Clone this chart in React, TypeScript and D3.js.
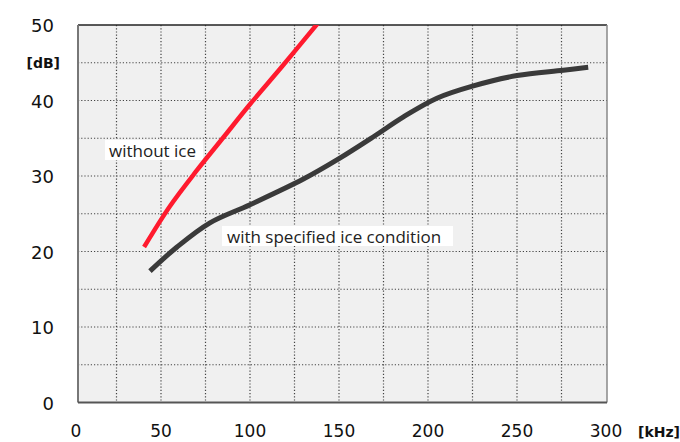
import React from 'react';
import * as d3 from 'd3';

// values (kHz, dB)
const withoutIceKHz = [40.5, 55, 70, 85, 100, 118, 138];
const withoutIceDB = [20.6, 26, 30.7, 35.1, 39.5, 44.5, 50.2];

const withIceKHz = [43.8, 59, 77.5, 100, 130, 150, 170, 186, 205, 225, 250, 276, 290];
const withIceDB = [17.4, 20.6, 23.8, 26.2, 29.6, 32.3, 35.3, 37.8, 40.3, 41.9, 43.3, 44, 44.4];

const xTickValues = [0, 50, 100, 150, 200, 250, 300];
const yTickValues = [0, 10, 20, 30, 40, 50];
const xGridValues = d3.range(25, 300, 25);
const yGridValues = d3.range(5, 50, 5);

const width = 680;
const height = 442;
const plotLeft = 78;
const plotRight = 607;
const plotTop = 25;
const plotBottom = 402.5;

const x = d3.scaleLinear().domain([0, 300]).range([72, 606]);
const y = d3.scaleLinear().domain([0, 50]).range([plotBottom, plotTop]);

const line = d3
  .line<[number, number]>()
  .curve(d3.curveCatmullRom.alpha(0.5))
  .x((d) => x(d[0]))
  .y((d) => y(d[1]));

const tickFont = '"DejaVu Sans", Verdana, sans-serif';
const noteFont = '"Open Sans", "Noto Sans", sans-serif';

export default function App() {
  const redPts = withoutIceKHz.map((k, i) => [k, withoutIceDB[i]] as [number, number]);
  const darkPts = withIceKHz.map((k, i) => [k, withIceDB[i]] as [number, number]);

  return (
    <svg
      width={width}
      height={height}
      viewBox={`0 0 ${width} ${height}`}
      style={{ position: 'absolute', left: 0, top: 0, background: '#fff' }}
    >
      <defs>
        <clipPath id="plot-clip">
          <rect x={plotLeft} y={plotTop} width={plotRight - plotLeft} height={plotBottom - plotTop} />
        </clipPath>
      </defs>

      <rect x={plotLeft} y={plotTop} width={plotRight - plotLeft} height={plotBottom - plotTop} fill="#f0f0f0" />

      {/* dotted grid */}
      <g stroke="#444" strokeWidth={1.2} strokeDasharray="1.2,2">
        {xGridValues.map((v) => (
          <line key={'gx' + v} x1={x(v)} x2={x(v)} y1={plotTop} y2={plotBottom} />
        ))}
        {yGridValues.map((v) => (
          <line key={'gy' + v} x1={plotLeft} x2={plotRight} y1={y(v)} y2={y(v)} />
        ))}
      </g>

      {/* frame */}
      <line x1={plotLeft} x2={plotRight} y1={plotTop} y2={plotTop} stroke="#222" strokeWidth={1.5} />
      <line x1={plotRight} x2={plotRight} y1={plotTop} y2={plotBottom} stroke="#888" strokeWidth={1.5} />
      <line x1={plotLeft} x2={plotLeft} y1={plotTop} y2={plotBottom} stroke="#777" strokeWidth={2} />
      <line x1={plotLeft} x2={plotRight} y1={plotBottom} y2={plotBottom} stroke="#555" strokeWidth={2} />

      {/* annotations */}
      <rect x={105} y={140} width={98} height={20} fill="#fff" />
      <text x={109} y={156.5} fontFamily={noteFont} fontSize={17} fill="#222">
        without ice
      </text>
      <rect x={222} y={226} width={231} height={20} fill="#fff" />
      <text x={227} y={242.5} fontFamily={noteFont} fontSize={17} fill="#222">
        with specified ice condition
      </text>

      {/* curves */}
      <g clipPath="url(#plot-clip)" fill="none" strokeLinecap="butt" strokeLinejoin="round">
        <path d={line(redPts) ?? ''} stroke="#ff1a2e" strokeWidth={4.5} />
        <path d={line(darkPts) ?? ''} stroke="#3a3a3a" strokeWidth={5} />
      </g>

      {/* y axis labels */}
      <g fontFamily={tickFont} fontSize={18} fill="#111" textAnchor="end">
        {yTickValues.map((v) => (
          <text key={'yt' + v} x={54} y={y(v) + 7}>
            {v}
          </text>
        ))}
      </g>
      <text x={60} y={68} fontFamily={tickFont} fontSize={14} fontWeight="bold" fill="#111" textAnchor="end">
        [dB]
      </text>

      {/* x axis labels */}
      <g fontFamily={tickFont} fontSize={17} fill="#111" textAnchor="middle">
        {xTickValues.map((v) => (
          <text key={'xt' + v} x={v === 0 ? 76 : x(v)} y={437}>
            {v}
          </text>
        ))}
      </g>
      <text x={638} y={437} fontFamily={tickFont} fontSize={14} fontWeight="bold" fill="#111">
        [kHz]
      </text>
    </svg>
  );
}
